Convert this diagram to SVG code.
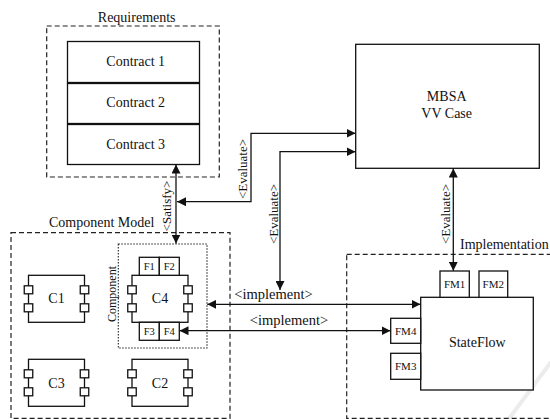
<svg xmlns="http://www.w3.org/2000/svg" xmlns:xlink="http://www.w3.org/1999/xlink" width="550" height="419" viewBox="0 0 550 419" font-family="'Liberation Serif', 'DejaVu Serif', serif">
<style>
text{font-family:'Liberation Serif','DejaVu Serif',serif;fill:#111;}
.box{fill:#fff;stroke:#111;stroke-width:1.3;}
.dash{fill:none;stroke:#222;stroke-width:1.2;stroke-dasharray:5,3;}
.dot{fill:none;stroke:#222;stroke-width:1.1;stroke-dasharray:1.5,1.5;}
.conn{fill:none;stroke:#111;stroke-width:1.3;marker-start:url(#ah);marker-end:url(#ah);}
.t14{font-size:14px;text-anchor:middle;}
.t13{font-size:13px;text-anchor:middle;}
.t11{font-size:11px;text-anchor:middle;}
.t10{font-size:10.5px;text-anchor:middle;}
</style>
<defs>
<marker id="ah" markerUnits="userSpaceOnUse" markerWidth="9" markerHeight="9" viewBox="0 0 10 10" refX="10" refY="5" orient="auto-start-reverse">
<path d="M0,0 L10,5 L0,10 z" fill="#111"/>
</marker>
<g id="comp">
<rect class="box" x="0" y="0" width="56" height="47"/>
<rect class="box" x="-4.25" y="10.5" width="8.5" height="8"/>
<rect class="box" x="-4.25" y="28.5" width="8.5" height="8"/>
<rect class="box" x="51.75" y="10.5" width="8.5" height="8"/>
<rect class="box" x="51.75" y="28.5" width="8.5" height="8"/>
</g>
</defs>
<rect width="550" height="419" fill="#fff"/>
<line x1="508" y1="420" x2="551" y2="362" stroke="#ececec" stroke-width="4"/>

<g id="requirements">
<rect class="dash" x="46.7" y="26" width="172.6" height="151"/>
<text class="t14" x="136.7" y="21.5">Requirements</text>
</g>
<g id="contract1">
<rect class="box" x="67.5" y="41.5" width="132" height="41"/>
<text class="t14" x="135.7" y="65.5">Contract 1</text>
</g>
<g id="contract2">
<rect class="box" x="67.5" y="83.5" width="132" height="40"/>
<text class="t14" x="135.7" y="106.5">Contract 2</text>
</g>
<g id="contract3">
<rect class="box" x="67.5" y="124.5" width="132" height="40"/>
<text class="t14" x="135.7" y="149">Contract 3</text>
</g>

<g id="mbsa">
<rect class="box" x="355.7" y="44.3" width="183.6" height="124"/>
<text class="t14" x="446.7" y="100.5">MBSA</text>
<text class="t14" x="446.7" y="118">VV Case</text>
</g>

<g id="component-model">
<rect class="dash" x="11" y="232.7" width="219" height="185.6"/>
<text font-size="14" x="49" y="227">Component Model</text>
</g>
<g id="component">
<rect class="dot" x="118.3" y="244" width="88.7" height="104"/>
<text font-size="12" text-anchor="middle" transform="translate(116,294) rotate(-90)">Component</text>
</g>
<g id="c1">
<use xlink:href="#comp" x="28.5" y="275.3"/>
<text class="t14" x="56.5" y="302.5">C1</text>
</g>
<g id="c4">
<use xlink:href="#comp" x="132" y="275.3"/>
<text class="t14" x="160" y="302.5">C4</text>
<rect class="box" x="139.3" y="257.3" width="20" height="18"/>
<rect class="box" x="159.3" y="257.3" width="20" height="18"/>
<rect class="box" x="139.3" y="322.3" width="20" height="18"/>
<rect class="box" x="159.3" y="322.3" width="20" height="18"/>
<text class="t10" x="149.3" y="270">F1</text>
<text class="t10" x="169.3" y="270">F2</text>
<text class="t10" x="149.3" y="335">F3</text>
<text class="t10" x="169.3" y="335">F4</text>
</g>
<g id="c3">
<use xlink:href="#comp" x="28.5" y="359.3"/>
<text class="t14" x="56.5" y="387.5">C3</text>
</g>
<g id="c2">
<use xlink:href="#comp" x="132" y="359.3"/>
<text class="t14" x="160" y="387.5">C2</text>
</g>

<g id="implementation">
<rect class="dash" x="346.7" y="254.3" width="215" height="164"/>
<text font-size="14" x="460" y="249">Implementation</text>
</g>
<g id="stateflow">
<rect class="box" x="420.7" y="297.3" width="112.6" height="92.7"/>
<text class="t14" x="477.3" y="346.5">StateFlow</text>
</g>
<g id="fm1">
<rect class="box" x="440" y="271" width="29.3" height="26.3"/>
<text class="t11" x="454.6" y="288">FM1</text>
</g>
<g id="fm2">
<rect class="box" x="479" y="271" width="28.7" height="26.3"/>
<text class="t11" x="493.3" y="288">FM2</text>
</g>
<g id="fm4">
<rect class="box" x="390.7" y="318.3" width="30" height="25"/>
<text class="t11" x="405.7" y="334.8">FM4</text>
</g>
<g id="fm3">
<rect class="box" x="390.7" y="353.3" width="30" height="26"/>
<text class="t11" x="405.7" y="370.3">FM3</text>
</g>

<g id="connectors">
<path class="conn" d="M176,164.5 L176,243.5"/>
<path class="conn" d="M177,201.7 L251,201.7 L251,133.3 L355.5,133.3"/>
<path class="conn" d="M280,290 L280,151.7 L355.5,151.7"/>
<path class="conn" d="M453.3,168.5 L453.3,270.8"/>
<path class="conn" d="M207.3,304.3 L420.5,304.3"/>
<path class="conn" d="M179.5,330.7 L390.5,330.7"/>
<text class="t13" transform="translate(171,206) rotate(-90)">&lt;Satisfy&gt;</text>
<text class="t13" transform="translate(247,169) rotate(-90)">&lt;Evaluate&gt;</text>
<text class="t13" transform="translate(277.5,214) rotate(-90)">&lt;Evaluate&gt;</text>
<text class="t13" transform="translate(449.5,214) rotate(-90)">&lt;Evaluate&gt;</text>
<text font-size="14.5" text-anchor="middle" x="273.5" y="298.5">&lt;implement&gt;</text>
<text font-size="14.5" text-anchor="middle" x="289" y="325">&lt;implement&gt;</text>
</g>
</svg>
